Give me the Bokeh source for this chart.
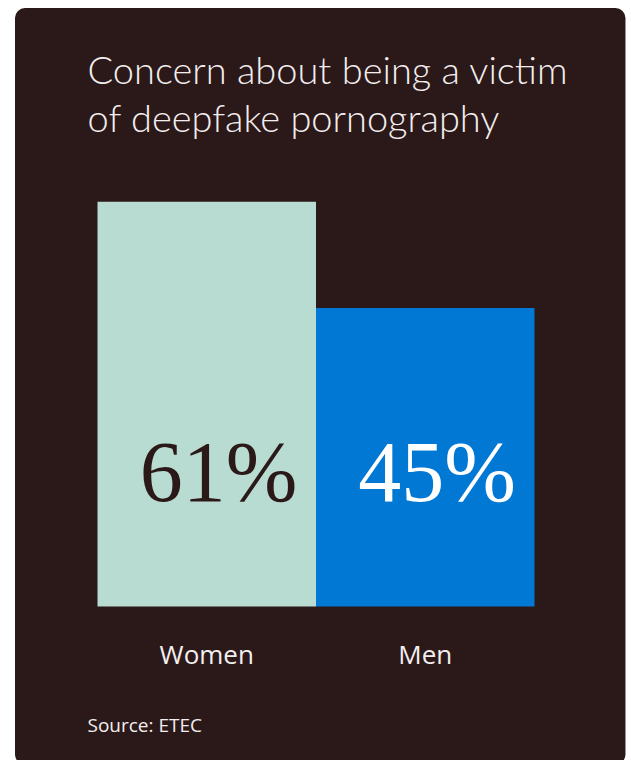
from bokeh.plotting import figure
from bokeh.models import FactorRange, Range1d, BoxAnnotation, Label, ColumnDataSource
from bokeh.core.properties import value
from bokeh.embed import file_html
from bokeh.resources import INLINE

# ---- data ----
categories = ["Women", "Men"]
shares = [61, 45]
value_labels = ["61%", "45%"]
title_lines = ["Concern about being a victim", "of deepfake pornography"]
source_text = "Source: ETEC"

# ---- styles ----
CARD = "#2b191a"
BAR_COLORS = ["#b8dcd2", "#0078d4"]
VALUE_COLORS = ["#2b191a", "#ffffff"]
TEXT_COLOR = "#f3eeee"

W, H = 631, 760
BASE_PY = 606      # pixel row of the bars' baseline
PX_PER_UNIT = 6.634
BAR_PX = 218.5

def y_of(py):
    return (BASE_PY - py) / PX_PER_UNIT

def x_of(px):
    pad = 0.444
    return -pad + px / BAR_PX

p = figure(width=W, height=H, output_backend="svg", toolbar_location=None,
           x_range=FactorRange(factors=categories, range_padding=0.444,
                               range_padding_units="absolute"),
           y_range=Range1d(y_of(H), y_of(0)),
           x_axis_location=None, y_axis_location=None, min_border=0)
p.outline_line_color = None
p.grid.visible = False
p.background_fill_color = "white"
p.border_fill_color = "white"

card = BoxAnnotation(left=x_of(14.5), right=x_of(625), top=y_of(7.5), bottom=y_of(764),
                     fill_color=CARD, fill_alpha=1, line_alpha=0, border_radius=10,
                     level="underlay")
p.add_layout(card)

src = ColumnDataSource(dict(cat=categories, share=shares, color=BAR_COLORS,
                            label=value_labels, lcolor=VALUE_COLORS,
                            zero=[0] * len(categories)))

p.vbar(x="cat", top="share", bottom=0, width=1.0, fill_color="color",
       line_color=None, source=src)

# value labels (anchored at the bars' base)
p.text(x="cat", y="zero", text="label", source=src, text_color="lcolor",
       text_font=value("Liberation Serif"), text_font_size="86px",
       text_align="left", text_baseline="alphabetic",
       x_offset=-67, y_offset=-135)

# category labels under the bars
p.text(x="cat", y="zero", text="cat", source=src, text_color=TEXT_COLOR,
       text_font=value("Open Sans"), text_font_size="26px",
       text_align="center", text_baseline="alphabetic", y_offset=47)

# title
for i, line in enumerate(title_lines):
    p.add_layout(Label(x=x_of(87), y=y_of(68 + 48 * i), text=line,
                       text_font="Lato Light", text_font_size="38px",
                       text_color=TEXT_COLOR, text_baseline="alphabetic",
                       text_align="left"))

p.add_layout(Label(x=x_of(87), y=y_of(724), text=source_text,
                   text_font="Open Sans", text_font_size="19px",
                   text_color=TEXT_COLOR, text_baseline="alphabetic",
                   text_align="left"))

open("out.html", "w").write(file_html(p, INLINE))
